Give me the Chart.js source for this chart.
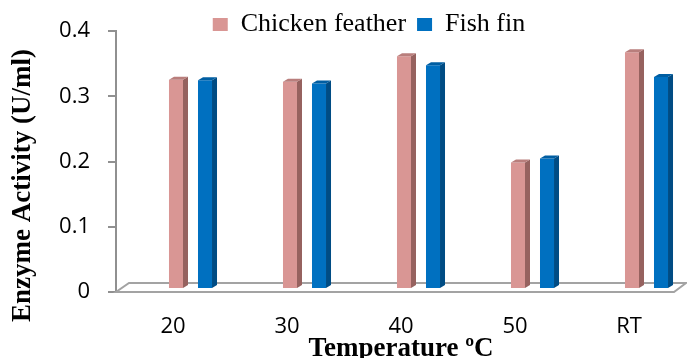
<!DOCTYPE html>
<html>
<head>
<meta charset="utf-8">
<script src="https://cdn.jsdelivr.net/npm/chart.js@4.4.1/dist/chart.umd.min.js"></script>
<style>
  html, body { margin: 0; padding: 0; background: #ffffff; }
  #wrap { width: 687px; height: 358px; }
</style>
</head>
<body>
<div id="wrap"><canvas id="c" width="687" height="358"></canvas></div>
<script>
const categories = ['20', '30', '40', '50', 'RT'];
const chickenFeather = [0.321, 0.318, 0.357, 0.194, 0.363];
const fishFin = [0.320, 0.315, 0.343, 0.200, 0.325];
const yTickValues = [0, 0.1, 0.2, 0.3, 0.4];
const seriesNames = ['Chicken feather', 'Fish fin'];
const xTitle = 'Temperature ºC';
const yTitle = 'Enzyme Activity (U/ml)';

const frontColors = ['#D99694', '#0070C0'];
const sideColors = ['#96625F', '#004C84'];
const topColors = ['#B97E7C', '#005EA2'];

const SHIFT_X = 17.5, SHIFT_Y = -3;   // 3D depth placement of bars
const DEPTH_X = 5, DEPTH_Y = 3;       // bar side depth

const threeD = {
  id: 'threeD',
  beforeLayout(chart) {
    const lg = chart.legend;
    if (lg && !lg._noHeight) {
      const origFit = lg.fit;
      lg.fit = function () { origFit.call(this); this.height = 0; };
      lg._noHeight = true;
    }
  },
  afterLayout(chart) {
    const lg = chart.legend;
    if (lg) {
      lg.left = 51; lg.right = 687; lg.top = 0.5; lg.bottom = lg.top + 38;
    }
  },
  beforeDatasetsDraw(chart) {
    const ctx = chart.ctx, a = chart.chartArea;
    ctx.save();
    ctx.strokeStyle = '#A3A3A3';
    ctx.lineWidth = 2;
    ctx.beginPath();
    ctx.moveTo(a.left, a.bottom);
    ctx.lineTo(a.right - 12, a.bottom);
    ctx.lineTo(a.right, a.bottom - 9);
    ctx.lineTo(a.left + 13, a.bottom - 9);
    ctx.closePath();
    ctx.stroke();
    ctx.restore();
    ctx.save();
    ctx.translate(SHIFT_X, SHIFT_Y);
  },
  afterDatasetsDraw(chart) {
    const ctx = chart.ctx;
    chart.data.datasets.forEach((ds, di) => {
      const meta = chart.getDatasetMeta(di);
      meta.data.forEach(bar => {
        const p = bar.getProps(['x', 'y', 'base', 'width'], true);
        const l = p.x - p.width / 2, r = p.x + p.width / 2;
        ctx.fillStyle = sideColors[di];
        ctx.beginPath();
        ctx.moveTo(r, p.y);
        ctx.lineTo(r + DEPTH_X, p.y - DEPTH_Y);
        ctx.lineTo(r + DEPTH_X, p.base - DEPTH_Y);
        ctx.lineTo(r, p.base);
        ctx.closePath();
        ctx.fill();
        ctx.fillStyle = topColors[di];
        ctx.beginPath();
        ctx.moveTo(l, p.y);
        ctx.lineTo(l + DEPTH_X, p.y - DEPTH_Y);
        ctx.lineTo(r + DEPTH_X, p.y - DEPTH_Y);
        ctx.lineTo(r, p.y);
        ctx.closePath();
        ctx.fill();
      });
    });
    ctx.restore();
  },
  afterDraw(chart) {
    const ctx = chart.ctx;
    ctx.save();
    ctx.translate(23, 185.5);
    ctx.rotate(-Math.PI / 2);
    ctx.font = 'bold 27px "Liberation Serif"';
    ctx.fillStyle = '#000';
    ctx.textAlign = 'center';
    ctx.textBaseline = 'middle';
    ctx.fillText(yTitle, 0, 0);
    ctx.restore();
  }
};

Chart.defaults.color = '#000';

new Chart(document.getElementById('c'), {
  type: 'bar',
  data: {
    labels: categories,
    datasets: [
      { label: seriesNames[0], data: chickenFeather, backgroundColor: frontColors[0], borderWidth: 0, clip: false },
      { label: seriesNames[1], data: fishFin, backgroundColor: frontColors[1], borderWidth: 0, clip: false }
    ]
  },
  options: {
    responsive: false,
    animation: false,
    categoryPercentage: 0.509,
    barPercentage: 0.483,
    layout: { padding: { top: 28, right: 1, left: 0, bottom: 0 } },
    plugins: {
      legend: {
        position: 'top',
        align: 'center',
        labels: {
          boxWidth: 15,
          boxHeight: 13,
          padding: 11,
          color: '#000',
          font: { family: '"Liberation Serif"', size: 26 }
        }
      },
      tooltip: { enabled: false }
    },
    scales: {
      x: {
        grid: { display: false },
        border: { display: false },
        ticks: {
          padding: 14,
          font: { family: '"Open Sans"', size: 22 },
          color: '#000'
        },
        title: {
          display: true,
          text: xTitle,
          font: { family: '"Liberation Serif"', size: 27, weight: 'bold', lineHeight: 0.7 },
          padding: { top: 0, bottom: 0 },
          color: '#000'
        },
        afterFit(scale) { scale.height = 66; }
      },
      y: {
        min: 0,
        max: 0.4,
        afterBuildTicks(scale) { scale.ticks = yTickValues.map(v => ({ value: v })); },
        grid: {
          drawOnChartArea: false,
          drawTicks: true,
          tickLength: 8,
          color: '#909090',
          lineWidth: 2
        },
        border: { display: true, color: '#909090', width: 2 },
        ticks: {
          padding: 18,
          font: { family: '"Open Sans"', size: 22 },
          color: '#000'
        },
        title: { display: false },
        afterFit(scale) { scale.width = 116; }
      }
    }
  },
  plugins: [threeD]
});
</script>
</body>
</html>
